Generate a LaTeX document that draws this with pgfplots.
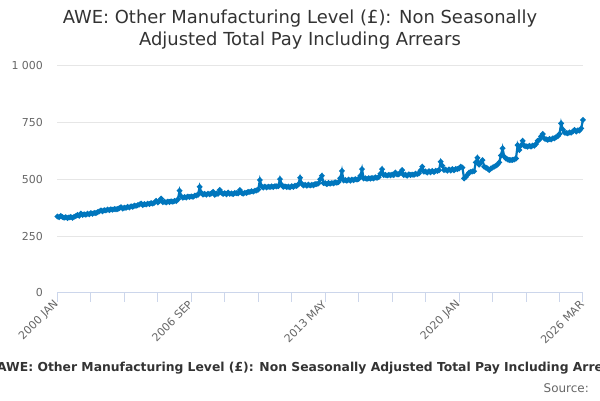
\documentclass[border=0pt]{standalone}
\usepackage{fontspec}
\setmainfont{DejaVu Sans}
\usepackage{pgfplots}
\usepackage{pgfplotstable}
\pgfplotsset{compat=1.18}
\definecolor{serie}{RGB}{0,118,189}
\definecolor{gridc}{RGB}{230,230,230}
\definecolor{axisc}{RGB}{204,214,235}
\definecolor{lab}{RGB}{102,102,102}
\definecolor{ttl}{RGB}{51,51,51}
\pgfplotstableread[row sep=\\]{
v\\
336\\333\\339\\334\\331\\333\\329\\332\\334\\330\\335\\338\\
343\\339\\349\\343\\346\\344\\349\\346\\351\\348\\352\\351\\
355\\359\\363\\359\\364\\363\\367\\364\\368\\366\\369\\368\\
369\\373\\377\\371\\375\\374\\379\\376\\381\\379\\384\\383\\
386\\389\\393\\387\\391\\389\\393\\391\\395\\393\\397\\405\\
398\\404\\415\\399\\402\\398\\402\\400\\403\\401\\405\\404\\
412\\450\\425\\419\\422\\420\\424\\422\\425\\423\\428\\429\\
432\\467\\441\\433\\436\\432\\437\\434\\438\\445\\432\\437\\
436\\453\\441\\436\\439\\434\\442\\436\\438\\435\\440\\439\\
438\\453\\441\\437\\441\\440\\445\\444\\448\\446\\450\\451\\
455\\497\\469\\464\\468\\464\\468\\466\\469\\466\\470\\469\\
470\\501\\476\\467\\469\\466\\468\\465\\470\\467\\472\\471\\
478\\507\\481\\473\\476\\472\\477\\473\\476\\474\\479\\479\\
482\\500\\516\\484\\483\\479\\484\\481\\484\\482\\487\\485\\
488\\505\\537\\495\\497\\494\\499\\494\\499\\496\\501\\499\\
502\\515\\545\\504\\505\\502\\505\\503\\506\\504\\509\\507\\
510\\525\\545\\519\\520\\517\\520\\518\\521\\519\\530\\522\\
522\\530\\541\\519\\521\\516\\522\\519\\521\\520\\525\\523\\
526\\540\\556\\534\\535\\530\\536\\531\\537\\532\\538\\537\\
540\\578\\560\\541\\543\\538\\544\\539\\545\\540\\546\\545\\
548\\556\\552\\504\\510\\520\\530\\533\\535\\536\\575\\595\\
565\\575\\585\\556\\552\\548\\541\\548\\552\\556\\560\\565\\
575\\605\\637\\600\\592\\588\\585\\585\\586\\588\\592\\651\\
630\\650\\670\\648\\646\\644\\648\\645\\649\\648\\656\\670\\
675\\690\\700\\680\\677\\674\\678\\676\\681\\681\\687\\690\\
700\\747\\720\\706\\705\\703\\707\\706\\711\\718\\711\\716\\
715\\725\\762\\
}\awe

\begin{document}
\begin{tikzpicture}[x=1bp,y=1bp]
\path[use as bounding box] (0,0) rectangle (600,400);
\begin{axis}[
  at={(57.4bp,107.3bp)}, anchor=south west,
  width=525.5bp, height=226.7bp, scale only axis,
  xmin=0, xmax=314, ymin=0, ymax=1000,
  axis x line*=bottom, axis y line*=left,
  x axis line style={draw=axisc, line width=1bp},
  y axis line style={draw=none},
  xtick={0,80,160,240,314},
  xticklabels={2000 JAN,2006 SEP,2013 MAY,2020 JAN,2026 MAR},
  minor xtick={20,40,60,100,120,140,180,200,220,260,280,300},
  x tick style={draw=axisc, line width=1bp},
  tick align=outside, major tick length=9bp, minor tick length=9bp,
  xticklabel style={rotate=45, anchor=east, font=\fontsize{11}{13}\selectfont, text=lab, inner sep=1bp},
  ytick={0,250,500,750,1000},
  yticklabels={0,250,500,750,1 000},
  y tick style={draw=none},
  yticklabel style={anchor=east, font=\fontsize{11}{13}\selectfont, text=lab, xshift=-2bp},
  ymajorgrids, grid style={draw=gridc, line width=1bp},
  /pgf/number format/assume math mode=true,
  clip=false,
]
\addplot[serie, line width=2.2bp, mark=*, mark size=1.5bp, mark options={fill=serie, draw=serie}]
  table[x expr=\coordindex, y=v] {\awe};
\end{axis}
\node[font=\fontsize{18}{21}\selectfont, text=ttl] at (300,381) {AWE: Other Manufacturing Level (£): Non Seasonally};
\node[font=\fontsize{18}{21}\selectfont, text=ttl] at (300,359) {Adjusted Total Pay Including Arrears};
\node[anchor=base west, font=\bfseries\fontsize{12.4}{15}\selectfont, text=ttl, inner sep=0] at (-3,29) {AWE: Other Manufacturing Level (£): Non Seasonally Adjusted Total Pay Including Arrears};
\node[anchor=base east, font=\fontsize{12}{14}\selectfont, text=lab, inner sep=0] at (589,8) {Source:};
\end{tikzpicture}
\end{document}
